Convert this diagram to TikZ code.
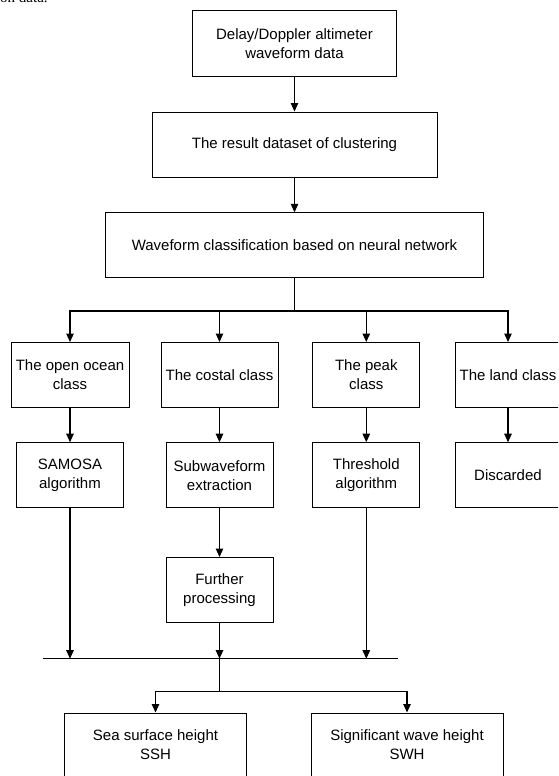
\documentclass[tikz,border=0pt]{standalone}
\usepackage{fontspec}
\setmainfont{Liberation Sans}
\newfontfamily\captionserif{Liberation Serif}
\usetikzlibrary{arrows.meta}

\begin{document}
\begin{tikzpicture}[x=1pt, y=1pt,
    box/.style={draw, line width=1pt, align=center, inner sep=2pt, font=\fontsize{15}{19}\selectfont},
    arr/.style={-{Triangle[width=7.5pt,length=8.5pt]}, line width=1.1pt},
    link/.style={line width=1.1pt}]
    \useasboundingbox (0,0) rectangle (558,-776);
    \clip (0,0) rectangle (558,-776);

    % Caption fragment
    \node[anchor=base west, inner sep=0pt, font=\captionserif\fontsize{15}{18}\selectfont] (capfrag) at (0,-2.7) {on data.};

    % Input and classification
    \node[box, minimum width=204, minimum height=65] (data) at (294.5,-43.5) {Delay/Doppler altimeter\\waveform data};
    \node[box, minimum width=285, minimum height=65] (result) at (294.5,-144.5) {The result dataset of clustering};
    \node[box, minimum width=378, minimum height=65] (classify) at (294.5,-245.3) {Waveform classification based on neural network};

    % Classes
    \node[box, minimum width=118, minimum height=65] (open) at (70,-375) {The open ocean\\class};
    \node[box, minimum width=117, minimum height=65] (costal) at (219.5,-375) {The costal class};
    \node[box, minimum width=107, minimum height=65] (peak) at (366.3,-375) {The peak\\class};
    \node[box, minimum width=106, minimum height=65] (land) at (508,-375) {The land class};

    % Processing
    \node[box, minimum width=107, minimum height=65] (samosa) at (70,-475.2) {SAMOSA\\algorithm};
    \node[box, minimum width=107, minimum height=65] (subwave) at (219.5,-475.2) {Subwaveform\\extraction};
    \node[box, minimum width=107, minimum height=65] (thresh) at (366.3,-475.2) {Threshold\\algorithm};
    \node[box, minimum width=106, minimum height=65] (discard) at (508,-475.2) {Discarded};
    \node[box, minimum width=107, minimum height=65] (further) at (219.5,-590) {Further\\processing};

    % Outputs
    \node[box, minimum width=182, minimum height=64] (ssh) at (155.5,-745) {Sea surface height\\SSH};
    \node[box, minimum width=192, minimum height=64] (swh) at (407,-745) {Significant wave height\\SWH};

    % Junctions
    \coordinate (split) at (294.5,-311);
    \coordinate (lineL) at (42.7,-658.7);
    \coordinate (lineR) at (398.3,-658.7);
    \coordinate (merge) at (219.5,-691.7);

    % Arrows
    \draw[arr] (data) -- (result);
    \draw[arr] (result) -- (classify);
    \draw[link] (classify) -- (split);
    \draw[arr] (split) -| (open);
    \draw[arr] (split) -| (costal);
    \draw[arr] (split) -| (peak);
    \draw[arr] (split) -| (land);
    \draw[arr] (open) -- (samosa);
    \draw[arr] (costal) -- (subwave);
    \draw[arr] (peak) -- (thresh);
    \draw[arr] (land) -- (discard);
    \draw[arr] (subwave) -- (further);
    \draw[link] (lineL) -- (lineR);
    \draw[arr] (samosa) -- (samosa |- lineL);
    \draw[arr] (further) -- (further |- lineL);
    \draw[arr] (thresh) -- (thresh |- lineL);
    \draw[link] (further |- lineL) -- (merge);
    \draw[arr] (merge) -| (ssh);
    \draw[arr] (merge) -| (swh);
\end{tikzpicture}
\end{document}
